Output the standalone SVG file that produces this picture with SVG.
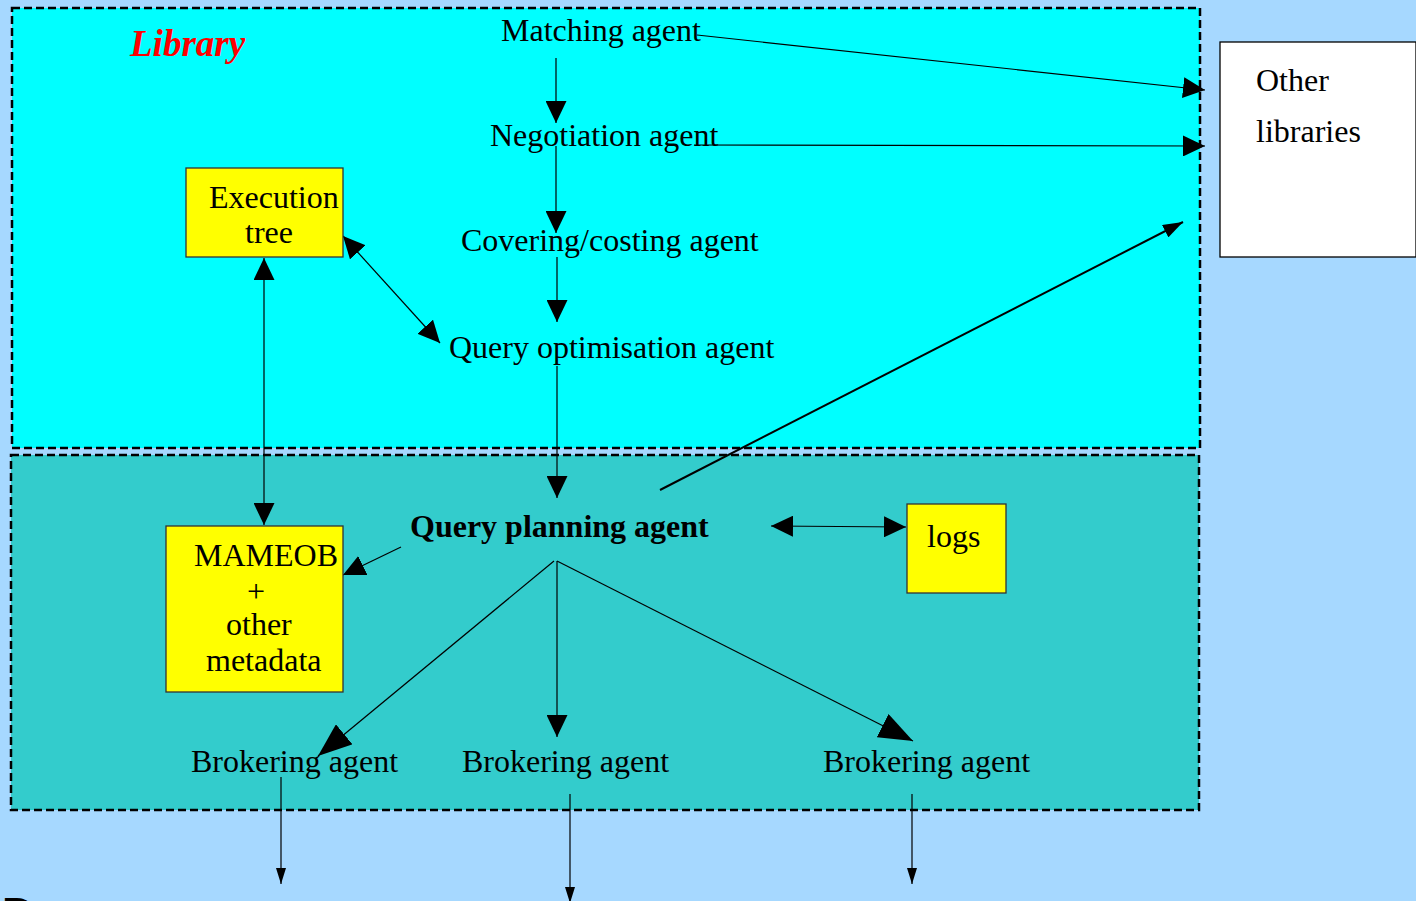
<svg xmlns="http://www.w3.org/2000/svg" width="1416" height="901" viewBox="0 0 1416 901">
  <style>
    .lbl { font-family: "Liberation Serif", "Times New Roman", serif; font-size: 32px; fill: #000; }
    .bold { font-weight: bold; }
    .title { font-family: "Liberation Serif", "Times New Roman", serif; font-size: 37px; font-weight: bold; font-style: italic; fill: #FF0000; }
    .region { stroke: #000; stroke-width: 2.5; stroke-dasharray: 8 4; }
    .box { fill: #FFFF00; stroke: #333; stroke-width: 1.3; }
    .wire { stroke: #000; stroke-width: 1.2; fill: none; }
    .wire2 { stroke: #000; stroke-width: 2; fill: none; }
  </style>
  <defs>
    <marker id="head" markerUnits="userSpaceOnUse" markerWidth="22" markerHeight="21" refX="22" refY="10.5" orient="auto-start-reverse">
      <path d="M0,0 L22,10.5 L0,21 Z" fill="#000"/>
    </marker>
    <marker id="headLong" markerUnits="userSpaceOnUse" markerWidth="34" markerHeight="26" refX="34" refY="13" orient="auto">
      <path d="M0,0 L34,13 L0,26 Z" fill="#000"/>
    </marker>
    <marker id="headMid" markerUnits="userSpaceOnUse" markerWidth="20" markerHeight="14" refX="20" refY="7" orient="auto">
      <path d="M0,0 L20,7 L0,14 Z" fill="#000"/>
    </marker>
    <marker id="headSmall" markerUnits="userSpaceOnUse" markerWidth="16" markerHeight="10" refX="16" refY="5" orient="auto">
      <path d="M0,0 L16,5 L0,10 Z" fill="#000"/>
    </marker>
  </defs>

  <!-- page background -->
  <rect x="0" y="0" width="1416" height="901" fill="#A6D8FF"/>

  <!-- library area and planning area -->
  <g id="library-area">
    <rect class="region" x="12" y="8" width="1188" height="440" fill="#00FFFF"/>
    <text class="title" x="130" y="56">Library</text>
  </g>
  <g id="planning-area">
    <rect class="region" x="11" y="455" width="1188" height="355" fill="#33CCCC"/>
  </g>

  <!-- connectors -->
  <g id="connectors">
    <line class="wire" x1="556" y1="58" x2="556" y2="123" marker-end="url(#head)"/>
    <line class="wire" x1="556" y1="146" x2="556" y2="233" marker-end="url(#head)"/>
    <line class="wire" x1="557" y1="257" x2="557" y2="322" marker-end="url(#head)"/>
    <line class="wire" x1="557" y1="366" x2="557" y2="498" marker-end="url(#head)"/>
    <line class="wire" x1="697" y1="35" x2="1205" y2="90" marker-end="url(#head)"/>
    <line class="wire" x1="694" y1="145" x2="1205" y2="146" marker-end="url(#head)"/>
    <line class="wire2" x1="660" y1="490" x2="1183" y2="222" marker-end="url(#headMid)"/>
    <line class="wire" x1="343" y1="236" x2="440" y2="343" marker-start="url(#head)" marker-end="url(#head)"/>
    <line class="wire" x1="264" y1="258" x2="264" y2="525" marker-start="url(#head)" marker-end="url(#head)"/>
    <line class="wire" x1="401" y1="547" x2="343" y2="575" marker-end="url(#head)"/>
    <line class="wire" x1="771" y1="526" x2="906" y2="527" marker-start="url(#head)" marker-end="url(#head)"/>
    <line class="wire" x1="554" y1="561" x2="318" y2="756" marker-end="url(#headLong)"/>
    <line class="wire" x1="557" y1="561" x2="557" y2="737" marker-end="url(#head)"/>
    <line class="wire" x1="557" y1="561" x2="913" y2="741" marker-end="url(#headLong)"/>
    <line class="wire" x1="281" y1="777" x2="281" y2="884" marker-end="url(#headSmall)"/>
    <line class="wire" x1="570" y1="794" x2="570" y2="903" marker-end="url(#headSmall)"/>
    <line class="wire" x1="912" y1="794" x2="912" y2="884" marker-end="url(#headSmall)"/>
  </g>

  <!-- agents -->
  <g id="matching-agent"><text class="lbl" x="501" y="41">Matching agent</text></g>
  <g id="negotiation-agent"><text class="lbl" x="490" y="146">Negotiation agent</text></g>
  <g id="covering-agent"><text class="lbl" x="461" y="251">Covering/costing agent</text></g>
  <g id="optimisation-agent"><text class="lbl" x="449" y="358">Query optimisation agent</text></g>
  <g id="planning-agent"><text class="lbl bold" x="410" y="537">Query planning agent</text></g>
  <g id="brokering-agent-1"><text class="lbl" x="191" y="772">Brokering agent</text></g>
  <g id="brokering-agent-2"><text class="lbl" x="462" y="772">Brokering agent</text></g>
  <g id="brokering-agent-3"><text class="lbl" x="823" y="772">Brokering agent</text></g>

  <!-- stores -->
  <g id="execution-tree">
    <rect class="box" x="186" y="168" width="157" height="89"/>
    <text class="lbl" x="209" y="208">Execution</text>
    <text class="lbl" x="245" y="243">tree</text>
  </g>
  <g id="metadata">
    <rect class="box" x="166" y="526" width="177" height="166"/>
    <text class="lbl" x="194" y="566">MAMEOB</text>
    <text class="lbl" x="247" y="602">+</text>
    <text class="lbl" x="226" y="635">other</text>
    <text class="lbl" x="206" y="671">metadata</text>
  </g>
  <g id="logs">
    <rect class="box" x="907" y="504" width="99" height="89"/>
    <text class="lbl" x="927" y="547">logs</text>
  </g>
  <g id="other-libraries">
    <rect x="1220" y="42" width="196" height="215" fill="#FFFFFF" stroke="#000" stroke-width="1.3"/>
    <text class="lbl" x="1256" y="91">Other</text>
    <text class="lbl" x="1256" y="142">libraries</text>
  </g>

  <!-- start of the next heading, cut by the page edge -->
  <text x="1" y="931" font-family="Liberation Sans, Arial, sans-serif" font-size="48" fill="#000">D</text>
</svg>
